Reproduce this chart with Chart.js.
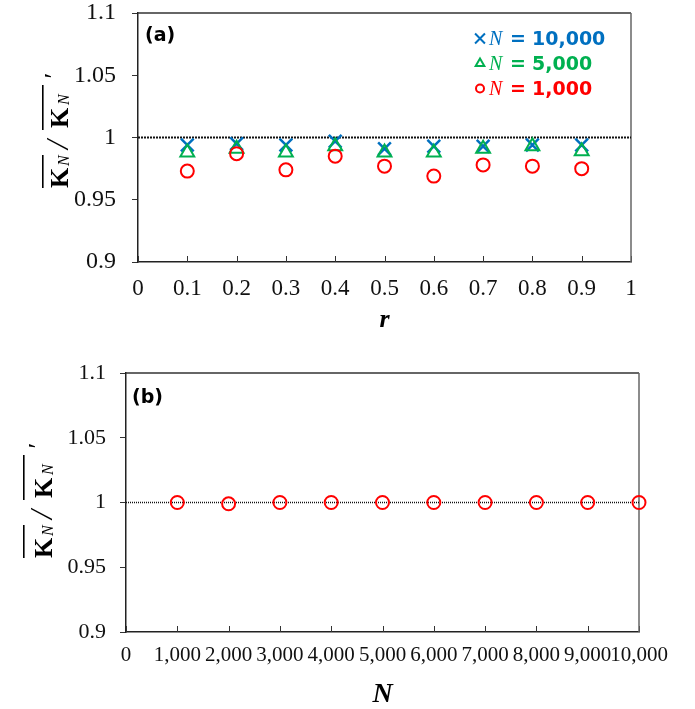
<!DOCTYPE html>
<html><head><meta charset="utf-8">
<script src="https://cdn.jsdelivr.net/npm/chart.js@4/dist/chart.umd.min.js"></script>
<style>
html,body{margin:0;padding:0;background:#fff;width:695px;height:709px;overflow:hidden}
canvas{position:absolute;left:0}
#ca{top:0}#cb{top:340px}
</style></head>
<body>
<canvas id="ca" width="695" height="340"></canvas>
<canvas id="cb" width="695" height="369"></canvas>
<script>
// ---------- data ----------
const rValues     = [0.1, 0.2, 0.3, 0.4, 0.5, 0.6, 0.7, 0.8, 0.9];
const ratioN10000 = [0.994, 0.995, 0.994, 0.997, 0.991, 0.993, 0.993, 0.994, 0.994];
const ratioN5000  = [0.988, 0.991, 0.988, 0.993, 0.988, 0.988, 0.991, 0.993, 0.989];
const ratioN1000  = [0.973, 0.987, 0.974, 0.985, 0.977, 0.969, 0.978, 0.977, 0.975];

const nValues  = [1000, 2000, 3000, 4000, 5000, 6000, 7000, 8000, 9000, 10000];
const ratioByN = [1.000, 0.999, 1.000, 1.000, 1.000, 1.000, 1.000, 1.000, 1.000, 1.000];

const refValue = 1;
const refRangeA = [0, 1];
const refRangeB = [0, 10000];

const xTickValuesA = [0, 0.1, 0.2, 0.3, 0.4, 0.5, 0.6, 0.7, 0.8, 0.9, 1];
const xTickLabelsA = ['0', '0.1', '0.2', '0.3', '0.4', '0.5', '0.6', '0.7', '0.8', '0.9', '1'];
const xTickValuesB = [0, 1000, 2000, 3000, 4000, 5000, 6000, 7000, 8000, 9000, 10000];
const xTickLabelsB = ['0', '1,000', '2,000', '3,000', '4,000', '5,000', '6,000', '7,000', '8,000', '9,000', '10,000'];
const yTickValues = [0.9, 0.95, 1, 1.05, 1.1];
const yTickLabels = ['0.9', '0.95', '1', '1.05', '1.1'];

const legendLabels = ['10,000', '5,000', '1,000'];

// ---------- styles ----------
const BLUE = '#0070C0', GREEN = '#00B050', RED = '#FF0000';
const SERIF = '"Liberation Serif", "Times New Roman", serif';
const SANS = '"DejaVu Sans", Verdana, sans-serif';

function drawYTitle(ctx, bx, by, ovl) {
  ctx.save();
  ctx.translate(bx, by);
  ctx.rotate(-Math.PI / 2);
  ctx.fillStyle = '#000';
  ctx.textBaseline = 'alphabetic';
  ctx.textAlign = 'left';
  ctx.font = 'bold 26px ' + SERIF;
  ctx.fillText('K', 0, 0);
  ctx.font = 'italic 16px ' + SERIF;
  ctx.fillText('N', 22, 1);
  ctx.fillRect(0, -ovl, 33, 1.6);
  ctx.font = 'italic 32px ' + SERIF;
  ctx.fillText('/', 39, 0);
  ctx.font = 'bold 26px ' + SERIF;
  ctx.fillText('K', 60, 0);
  ctx.font = 'italic 16px ' + SERIF;
  ctx.fillText('N', 83, 1);
  ctx.fillRect(58, -ovl, 45, 1.6);
  ctx.font = 'italic 26px ' + SERIF;
  ctx.fillText('\u2032', 108, -6);
  ctx.restore();
}

function mark(ctx, style, r, bw, color, x, y) {
  ctx.save();
  ctx.strokeStyle = color;
  ctx.fillStyle = 'rgba(0,0,0,0)';
  ctx.lineWidth = bw;
  Chart.helpers.drawPoint(ctx, {pointStyle: style, radius: r, borderWidth: bw, rotation: 0}, x, y);
  ctx.restore();
}

const deco = {
  id: 'deco',
  beforeDatasetsDraw(chart, args, o) {
    const {ctx, chartArea: a, scales: {x}} = chart;
    ctx.save();
    ctx.strokeStyle = '#333';
    ctx.lineWidth = 1;
    x.ticks.forEach(t => {
      const px = Math.round(x.getPixelForValue(t.value)) + 0.5;
      ctx.beginPath();
      ctx.moveTo(px, a.bottom);
      ctx.lineTo(px, a.bottom - 6);
      ctx.stroke();
    });
    ctx.lineWidth = 1.5;
    ctx.strokeStyle = '#333';
    ctx.beginPath(); ctx.moveTo(a.left, a.top); ctx.lineTo(a.right, a.top); ctx.stroke();
    ctx.strokeStyle = '#666';
    ctx.beginPath(); ctx.moveTo(a.right, a.top); ctx.lineTo(a.right, a.bottom); ctx.stroke();
    ctx.restore();
  },
  afterDraw(chart, args, o) {
    const {ctx, chartArea: a, scales: {y}} = chart;
    ctx.save();
    // y tick labels (positioned by the y scale)
    ctx.fillStyle = '#111';
    ctx.font = o.yFont + 'px ' + SERIF;
    ctx.textAlign = 'right';
    ctx.textBaseline = 'middle';
    y.ticks.forEach((t, i) => {
      ctx.fillText(yTickLabels[i], a.left - 6 - o.yPad, y.getPixelForValue(t.value));
    });
    // panel label
    ctx.fillStyle = '#000';
    ctx.font = 'bold 19px ' + SANS;
    ctx.textBaseline = 'alphabetic';
    ctx.textAlign = 'left';
    ctx.fillText(o.panel, o.panelX, o.panelY);
    // x title
    ctx.font = 'bold italic ' + o.xTitleSize + 'px ' + SERIF;
    ctx.textAlign = 'center';
    ctx.fillText(o.xTitle, (a.left + a.right) / 2, o.xTitleY);
    // legend
    if (o.legend) {
      const rows = [
        {style: 'crossRot', r: 7, color: BLUE},
        {style: 'triangle', r: 5, color: GREEN},
        {style: 'circle', r: 4, color: RED}
      ];
      rows.forEach((row, i) => {
        const base = 45 + i * 25;
        mark(ctx, row.style, row.r, 2, row.color, 480, base - 6.5);
        ctx.fillStyle = row.color;
        ctx.textAlign = 'left';
        ctx.font = 'italic 20px ' + SERIF;
        ctx.fillText('N', 489, base);
        ctx.font = 'bold 19px ' + SANS;
        ctx.fillText('=', 510, base);
        ctx.fillText(legendLabels[i], 532, base);
      });
    }
    ctx.restore();
    drawYTitle(ctx, o.yTitleX, o.yTitleY, o.ovl);
  }
};

const pts = (xs, ys) => xs.map((x, i) => ({x, y: ys[i]}));

function scales(xVals, xLabels, xFont, xPad, xHeight, yWidth, xMax) {
  return {
    x: {
      type: 'linear', min: 0, max: xMax,
      afterBuildTicks: s => { s.ticks = xVals.map(v => ({value: v})); },
      afterFit: s => { s.height = xHeight; },
      ticks: {
        autoSkip: false, maxRotation: 0, minRotation: 0, padding: xPad, color: '#111',
        font: {family: SERIF, size: xFont},
        callback: (v, i) => xLabels[i]
      },
      grid: {display: false, drawTicks: false},
      border: {display: true, color: '#222', width: 1.5}
    },
    y: {
      type: 'linear', min: 0.9, max: 1.1,
      afterBuildTicks: s => { s.ticks = yTickValues.map(v => ({value: v})); },
      afterFit: s => { s.width = yWidth; },
      ticks: {display: false},
      grid: {drawOnChartArea: false, drawTicks: true, tickLength: 6, color: '#333', lineWidth: 1},
      border: {display: true, color: '#222', width: 1.5}
    }
  };
}

new Chart(document.getElementById('ca'), {
  type: 'scatter',
  data: {
    datasets: [
      {type: 'line', data: pts(refRangeA, refRangeA.map(() => refValue)), borderColor: '#111',
       borderWidth: 2, borderDash: [2, 1], pointRadius: 0, fill: false, order: 10},
      {label: 'N = 10,000', data: pts(rValues, ratioN10000), pointStyle: 'crossRot', pointRadius: 9,
       borderColor: BLUE, backgroundColor: 'rgba(0,0,0,0)', pointBorderWidth: 2.5, order: 3, clip: false},
      {label: 'N = 5,000', data: pts(rValues, ratioN5000), pointStyle: 'triangle', pointRadius: 8,
       borderColor: GREEN, backgroundColor: 'rgba(0,0,0,0)', pointBorderWidth: 2, order: 2, clip: false},
      {label: 'N = 1,000', data: pts(rValues, ratioN1000), pointStyle: 'circle', pointRadius: 6.5,
       borderColor: RED, backgroundColor: 'rgba(0,0,0,0)', pointBorderWidth: 2, order: 1, clip: false}
    ]
  },
  options: {
    responsive: false, animation: false, devicePixelRatio: 1,
    layout: {padding: {top: 13, right: 64, left: 0, bottom: 0}},
    plugins: {
      legend: {display: false}, tooltip: {enabled: false},
      deco: {panel: '(a)', panelX: 145, panelY: 40.5, xTitle: 'r', xTitleSize: 26, xTitleY: 327,
             legend: true, yTitleX: 68, yTitleY: 188, ovl: 26, yFont: 24, yPad: 16}
    },
    scales: scales(xTickValuesA, xTickLabelsA, 23, 13, 78, 138, 1)
  },
  plugins: [deco]
});

new Chart(document.getElementById('cb'), {
  type: 'scatter',
  data: {
    datasets: [
      {type: 'line', data: pts(refRangeB, refRangeB.map(() => refValue)), borderColor: '#111',
       borderWidth: 1.5, borderDash: [1, 1], pointRadius: 0, fill: false, order: 10},
      {label: 'N', data: pts(nValues, ratioByN), pointStyle: 'circle', pointRadius: 6.5,
       borderColor: RED, backgroundColor: 'rgba(0,0,0,0)', pointBorderWidth: 2, order: 1, clip: false}
    ]
  },
  options: {
    responsive: false, animation: false, devicePixelRatio: 1,
    layout: {padding: {top: 33, right: 56, left: 0, bottom: 0}},
    plugins: {
      legend: {display: false}, tooltip: {enabled: false},
      deco: {panel: '(b)', panelX: 132, panelY: 62.5, xTitle: 'N', xTitleSize: 28, xTitleY: 362,
             legend: false, yTitleX: 52, yTitleY: 218, ovl: 29, yFont: 22, yPad: 14}
    },
    scales: scales(xTickValuesB, xTickLabelsB, 21, 11, 77, 126, 10000)
  },
  plugins: [deco]
});
</script>
</body></html>
